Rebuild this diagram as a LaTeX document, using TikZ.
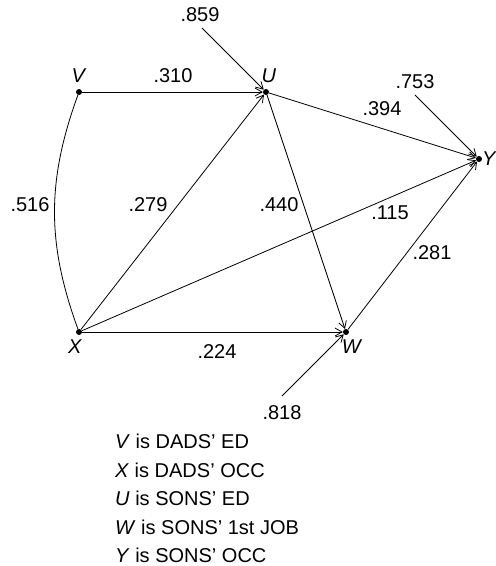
\documentclass[tikz,border=0pt]{standalone}
\usepackage{fontspec}
\setmainfont{Liberation Sans}
\usetikzlibrary{arrows.meta}
\tikzset{
  dot/.style={circle, fill, inner sep=0pt, minimum size=6pt},
  lbl/.style={font=\fontsize{20}{24}\selectfont, inner sep=0pt},
  path/.style={line width=0.8pt, -{Straight Barb[length=7pt,width=8pt]}}
}
\begin{document}
\begin{tikzpicture}[x=1pt, y=-1pt]
    \useasboundingbox (0,0) rectangle (496,566);

    % Variables
    \node[dot] (V) at (79,92) {};
    \node[dot] (U) at (266,92) {};
    \node[dot] (Y) at (479,159) {};
    \node[dot] (X) at (79,332) {};
    \node[dot] (W) at (346,332) {};

    \node[lbl] (lV) at (79,76) {\textit{V}};
    \node[lbl] (lU) at (269,76) {\textit{U}};
    \node[lbl, anchor=west] (lY) at (482,159) {\textit{Y}};
    \node[lbl] (lX) at (75,347) {\textit{X}};
    \node[lbl] (lW) at (352,347) {\textit{W}};

    % Residual sources
    \coordinate (eU) at (202,28);
    \coordinate (eY) at (415,95);
    \coordinate (eW) at (282,396);

    % Correlation
    \draw[line width=0.8pt] (V) to[bend right=20] (X);

    % Paths
    \draw[path] (V) -- (U);
    \draw[path] (U) -- (Y);
    \draw[path] (U) -- (W);
    \draw[path] (X) -- (U);
    \draw[path] (X) -- (Y);
    \draw[path] (X) -- (W);
    \draw[path] (W) -- (Y);

    % Residuals
    \draw[path] (eU) -- (U);
    \draw[path] (eY) -- (Y);
    \draw[path] (eW) -- (W);

    % Coefficients
    \node[lbl] (c310) at (173,76) {.310};
    \node[lbl] (c859) at (200,15) {.859};
    \node[lbl] (c753) at (415,82) {.753};
    \node[lbl] (c394) at (382,109) {.394};
    \node[lbl] (c516) at (30,205) {.516};
    \node[lbl] (c279) at (148,205) {.279};
    \node[lbl] (c440) at (279,205) {.440};
    \node[lbl] (c115) at (390,213) {.115};
    \node[lbl] (c281) at (432,253) {.281};
    \node[lbl] (c224) at (217,352) {.224};
    \node[lbl] (c818) at (282,413) {.818};

    % Key
    \node[lbl, anchor=base west] (k1) at (115,448) {\textit{V} is DADS’ ED};
    \node[lbl, anchor=base west] (k2) at (115,477) {\textit{X} is DADS’ OCC};
    \node[lbl, anchor=base west] (k3) at (115,505) {\textit{U} is SONS’ ED};
    \node[lbl, anchor=base west] (k4) at (115,534) {\textit{W} is SONS’ 1st JOB};
    \node[lbl, anchor=base west] (k5) at (115,562) {\textit{Y} is SONS’ OCC};
\end{tikzpicture}
\end{document}
